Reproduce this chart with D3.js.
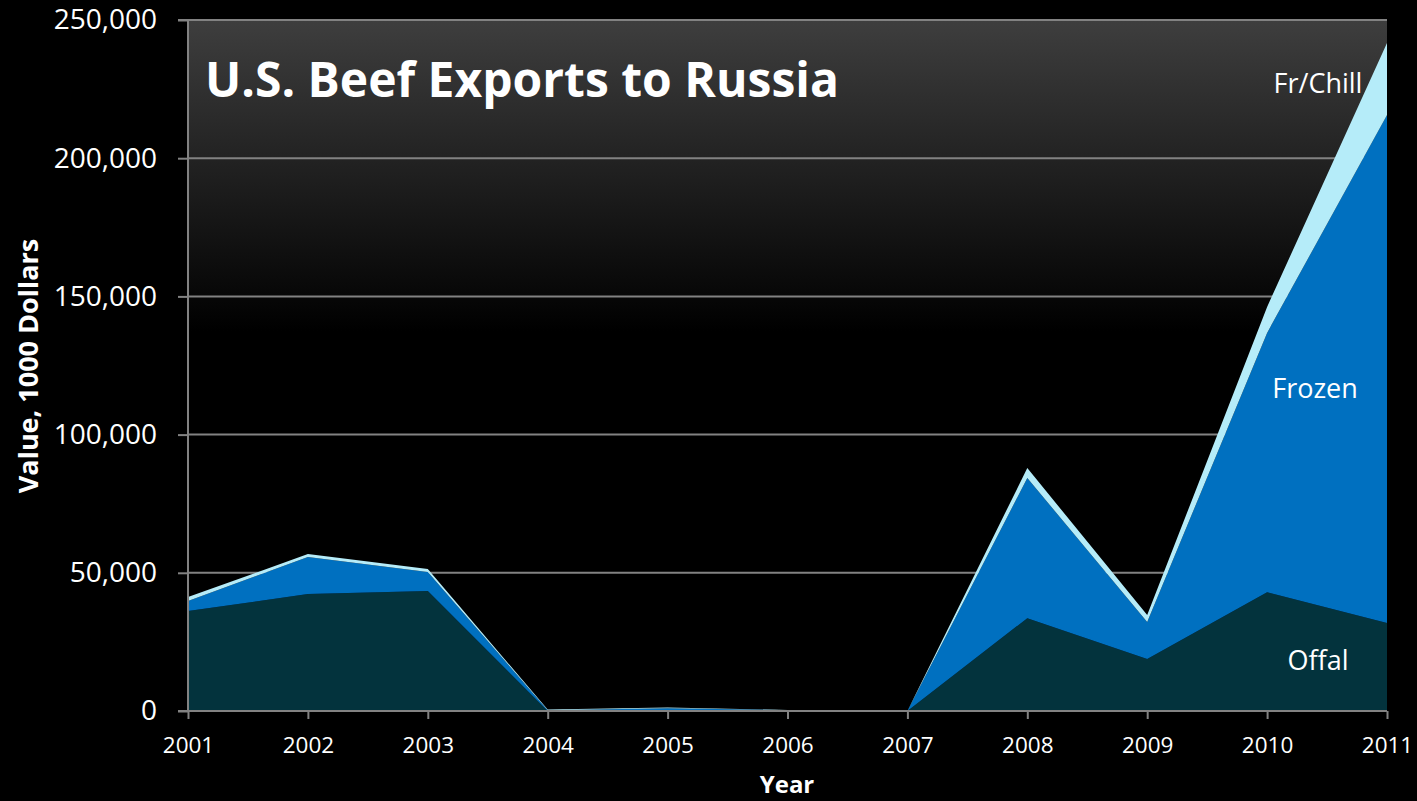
<!DOCTYPE html>
<html><head><meta charset="utf-8">
<script src="https://cdn.jsdelivr.net/npm/d3@7"></script>
<style>html,body{margin:0;padding:0;background:#000;}svg{display:block;}</style>
</head><body>
<svg id="c" width="1417" height="801"></svg>
<script>
const years = [2001,2002,2003,2004,2005,2006,2007,2008,2009,2010,2011];
const offal   = [36.2,42.3,43.4,0,0,0,0,33.6,18.8,43.0,31.8].map(v=>v*1000);
const frozen  = [3.6,13.4,6.9,0.3,1.0,0.3,0,50.7,13.4,93.8,183.8].map(v=>v*1000);
const frChill = [1.4,1.1,1.1,0.2,0.3,0.1,0,3.6,2.5,9.4,26.1].map(v=>v*1000);
const seriesNames = ["Offal","Frozen","Fr/Chill"];
const colors = ["#03333d","#0070c0","#b5ecf9"];
const yTicks = [0,50000,100000,150000,200000,250000];

const svg = d3.select("#c");
const m = {l:188,r:1387,t:20,b:711};
const x = d3.scaleLinear().domain([2001,2011]).range([m.l,m.r]);
const y = d3.scaleLinear().domain([0,250000]).range([m.b,m.t]);
const font = "'Open Sans', Calibri, sans-serif";

const defs = svg.append("defs");
const g = defs.append("linearGradient").attr("id","bg").attr("x1",0).attr("y1",0).attr("x2",0).attr("y2",1);
g.append("stop").attr("offset","0%").attr("stop-color","#3e3e3e");
g.append("stop").attr("offset","45%").attr("stop-color","#000");
g.append("stop").attr("offset","100%").attr("stop-color","#000");
svg.append("rect").attr("x",m.l).attr("y",m.t).attr("width",m.r-m.l).attr("height",m.b-m.t).attr("fill","url(#bg)");

// gridlines
svg.append("g").selectAll("line").data(yTicks.filter(d=>d>0)).join("line")
  .attr("x1",m.l).attr("x2",m.r).attr("y1",d=>y(d)).attr("y2",d=>y(d))
  .attr("stroke","#828282").attr("stroke-width",2);

const table = years.map((yr,i)=>({year:yr,"Offal":offal[i],"Frozen":frozen[i],"Fr/Chill":frChill[i]}));
const stack = d3.stack().keys(seriesNames)(table);
const area = d3.area().x(d=>x(d.data.year)).y0(d=>y(d[0])).y1(d=>y(d[1]));
svg.append("g").selectAll("path").data(stack).join("path")
  .attr("d",area).attr("fill",(d,i)=>colors[i]);

// axes
const yAxis = d3.axisLeft(y).tickValues(yTicks).tickFormat(d3.format(",")).tickSize(10).tickPadding(21);
const ya = svg.append("g").attr("transform",`translate(${m.l},0)`).call(yAxis);
ya.select(".domain").attr("stroke","#828282").attr("stroke-width",2).attr("d",`M-10,${m.t}H0V${m.b}H-10`);
ya.selectAll(".tick line").attr("stroke","#828282").attr("stroke-width",2);
ya.selectAll(".tick text").attr("fill","#fff").style("font-family",font).style("font-size","28px");

const xAxis = d3.axisBottom(x).tickValues(years).tickFormat(d3.format("d")).tickSize(8).tickPadding(18);
const xa = svg.append("g").attr("transform",`translate(0,${m.b})`).call(xAxis);
xa.select(".domain").attr("stroke","#828282").attr("stroke-width",2).attr("d",`M${m.l},0H${m.r}`);
xa.selectAll(".tick line").attr("stroke","#828282").attr("stroke-width",2);
xa.selectAll(".tick text").attr("fill","#fff").style("font-family",font).style("font-size","22.5px");

// titles
svg.append("text").attr("x",205).attr("y",97).attr("fill","#fff")
  .style("font-family",font).style("font-weight","bold").style("font-size","48px")
  .text("U.S. Beef Exports to Russia");
svg.append("text").attr("x",787).attr("y",793).attr("text-anchor","middle").attr("fill","#fff")
  .style("font-family",font).style("font-weight","bold").style("font-size","24px").text("Year");
svg.append("text").attr("transform","translate(38,366) rotate(-90)").attr("text-anchor","middle").attr("fill","#fff")
  .style("font-family",font).style("font-weight","bold").style("font-size","27px").text("Value, 1000 Dollars");

// series labels
const labels = [{t:"Fr/Chill",x:1318,y:93},{t:"Frozen",x:1315,y:398},{t:"Offal",x:1318,y:670}];
svg.append("g").selectAll("text").data(labels).join("text")
  .attr("x",d=>d.x).attr("y",d=>d.y).attr("text-anchor","middle").attr("fill","#fff")
  .style("font-family",font).style("font-size","27px").text(d=>d.t);
</script>
</body></html>
